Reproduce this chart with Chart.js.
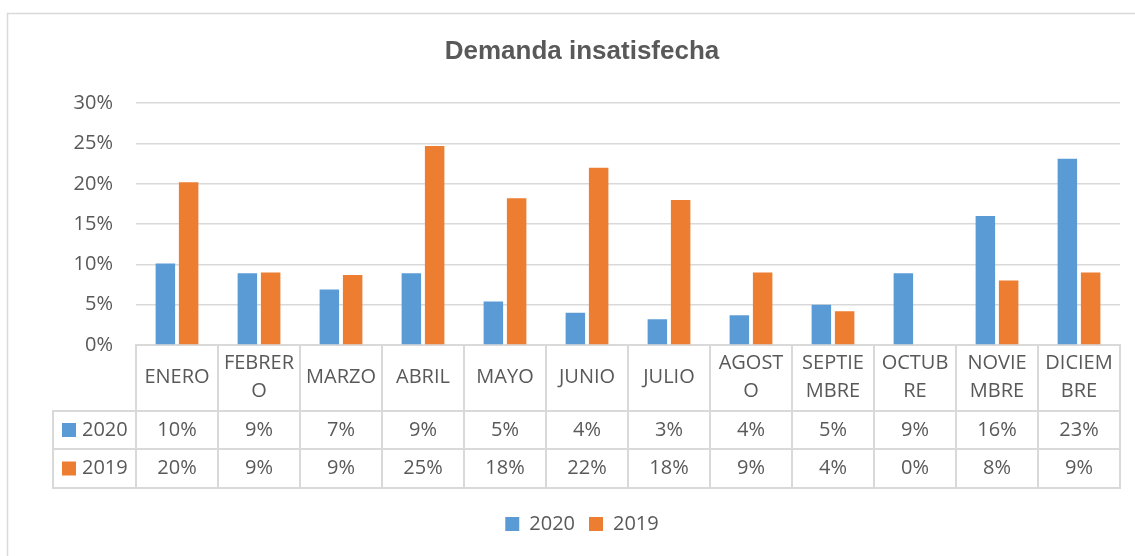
<!DOCTYPE html>
<html>
<head>
<meta charset="utf-8">
<script src="https://cdn.jsdelivr.net/npm/chart.js@4.4.1/dist/chart.umd.min.js"></script>
<style>
  html, body { margin: 0; padding: 0; background: #ffffff; }
  #wrap { position: relative; width: 1135px; height: 556px; }
</style>
</head>
<body>
<div id="wrap"><canvas id="c" width="1135" height="556"></canvas></div>
<script>
// ---- data ----
const titleText = 'Demanda insatisfecha';
const categories = ['ENERO', ['FEBRER', 'O'], 'MARZO', 'ABRIL', 'MAYO', 'JUNIO', 'JULIO',
  ['AGOST', 'O'], ['SEPTIE', 'MBRE'], ['OCTUB', 'RE'], ['NOVIE', 'MBRE'], ['DICIEM', 'BRE']];
const seriesNames = ['2020', '2019'];
const values2020 = [10.1, 8.9, 6.9, 8.9, 5.4, 4.0, 3.2, 3.7, 5.0, 8.9, 16.0, 23.1];
const values2019 = [20.2, 9.0, 8.7, 24.7, 18.2, 22.0, 18.0, 9.0, 4.2, 0, 8.0, 9.0];
const yMin = 0, yMax = 30, yStep = 5;

// ---- styles ----
const TEXT = '#595959';
const GRID = '#D9D9D9';
const FONT = '"Open Sans", "DejaVu Sans", sans-serif';
const colors = ['#5B9BD5', '#ED7D31'];

const frameAndTable = {
  id: 'frameAndTable',
  beforeDraw(chart) {
    const ctx = chart.ctx;
    ctx.save();
    ctx.strokeStyle = GRID;
    ctx.lineWidth = 1.5;
    ctx.strokeRect(7.5, 13.5, 3000, 3000);
    ctx.restore();
  },
  afterDraw(chart) {
    const ctx = chart.ctx;
    const area = chart.chartArea;
    const x = chart.scales.x;
    const rowLines = [area.bottom + 66, area.bottom + 104, area.bottom + 143];
    const leftEdge = area.left - 83;
    ctx.save();
    ctx.strokeStyle = GRID;
    ctx.lineWidth = 2;
    ctx.beginPath();
    rowLines.forEach(y => { ctx.moveTo(leftEdge, y); ctx.lineTo(area.right + 1, y); });
    ctx.moveTo(leftEdge, rowLines[0] - 1);
    ctx.lineTo(leftEdge, rowLines[2] + 1);
    ctx.stroke();

    ctx.font = '20px ' + FONT;
    ctx.fillStyle = TEXT;
    ctx.textBaseline = 'middle';
    chart.data.datasets.forEach((ds, r) => {
      const yc = (rowLines[r] + rowLines[r + 1]) / 2;
      ctx.fillStyle = ds.backgroundColor;
      ctx.fillRect(leftEdge + 9, yc - 7, 14, 14);
      ctx.fillStyle = TEXT;
      ctx.textAlign = 'left';
      ctx.fillText(ds.label, leftEdge + 29, yc);
      ctx.textAlign = 'center';
      ds.data.forEach((v, i) => {
        ctx.fillText(Math.round(v) + '%', x.getPixelForValue(i), yc);
      });
    });
    ctx.restore();
  }
};

new Chart(document.getElementById('c'), {
  type: 'bar',
  data: {
    labels: categories,
    datasets: [
      { label: seriesNames[0], data: values2020, backgroundColor: colors[0] },
      { label: seriesNames[1], data: values2019, backgroundColor: colors[1] }
    ]
  },
  options: {
    responsive: false,
    animation: false,
    devicePixelRatio: 1,
    layout: { padding: { left: 44, right: 15, top: 0, bottom: 12 } },
    datasets: { bar: { categoryPercentage: 0.568, barPercentage: 0.837 } },
    plugins: {
      title: {
        display: true,
        text: titleText,
        color: TEXT,
        font: { family: '"Liberation Sans", Arial, sans-serif', size: 26, weight: 'bold', lineHeight: 1.2 },
        padding: { top: 36, bottom: 36 }
      },
      legend: {
        display: true,
        position: 'bottom',
        labels: {
          color: TEXT,
          font: { family: FONT, size: 20 },
          boxWidth: 14,
          boxHeight: 14,
          padding: 14
        }
      },
      tooltip: { enabled: false }
    },
    scales: {
      y: {
        min: yMin,
        max: yMax,
        ticks: {
          stepSize: yStep,
          color: TEXT,
          font: { family: FONT, size: 20 },
          padding: 23,
          callback: v => v + '%'
        },
        grid: { color: GRID, lineWidth: 1.5, drawTicks: false },
        border: { display: false },
        afterFit(scale) { scale.width = 92; }
      },
      x: {
        offset: true,
        ticks: {
          color: TEXT,
          autoSkip: false,
          maxRotation: 0,
          minRotation: 0,
          padding: -139,
          font: ctx => ({
            family: FONT,
            size: 20,
            lineHeight: Array.isArray(categories[ctx.index]) ? '28px' : '56px'
          })
        },
        grid: {
          offset: true,
          drawOnChartArea: false,
          drawTicks: true,
          tickLength: 143,
          color: GRID,
          lineWidth: 2
        },
        border: { display: true, color: GRID, width: 2 },
        afterFit(scale) { scale.height = 155; }
      }
    }
  },
  plugins: [frameAndTable]
});
</script>
</body>
</html>
